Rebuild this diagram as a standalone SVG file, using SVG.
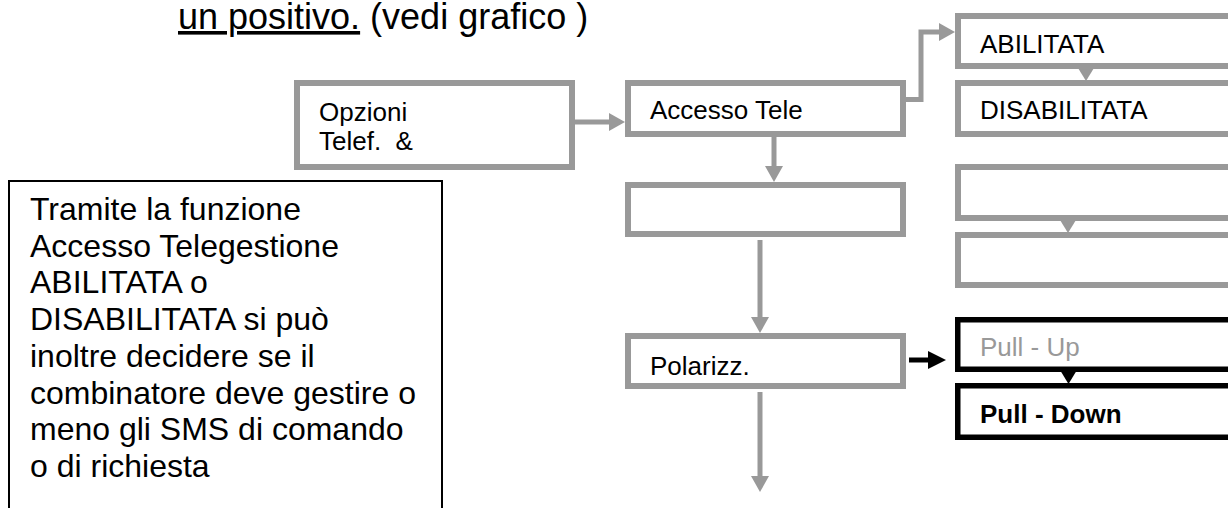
<svg xmlns="http://www.w3.org/2000/svg" width="1228" height="508" viewBox="0 0 1228 508">
<style>
  .box{fill:#fff;stroke:#999;stroke-width:6}
  .bbox{fill:#fff;stroke:#000;stroke-width:5.5}
  .lbl{font-family:"Liberation Sans",Arial,sans-serif;font-size:26px;fill:#000;white-space:pre}
  .note{font-family:"Liberation Sans",Arial,sans-serif;font-size:32px;fill:#000}
  .title{font-family:"Liberation Sans",Arial,sans-serif;font-size:36px;fill:#000;white-space:pre}
  .con{fill:none;stroke:#999;stroke-width:5;stroke-linejoin:miter}
  .conb{fill:none;stroke:#000;stroke-width:5}
  .tri{fill:#999}
  .trib{fill:#000}
</style>
<defs>
  <marker id="ag" markerUnits="userSpaceOnUse" markerWidth="16" markerHeight="18" viewBox="0 0 16 18" refX="2" refY="9" orient="auto"><path d="M0,0 L16,9 L0,18 z" fill="#999"/></marker>
  <marker id="ab" markerUnits="userSpaceOnUse" markerWidth="18" markerHeight="18" viewBox="0 0 18 18" refX="2" refY="9" orient="auto"><path d="M0,0 L18,9 L0,18 z" fill="#000"/></marker>
</defs>
<rect width="1228" height="508" fill="#fff"/>

<text class="title" x="178" y="29"><tspan text-decoration="underline">un positivo.</tspan> (vedi grafico )</text>

<g id="connectors">
  <path class="con" d="M575,122 H611" marker-end="url(#ag)"/>
  <path class="con" d="M906,99.5 H921 V32 H941" marker-end="url(#ag)"/>
  <path class="con" d="M774,137 V168" marker-end="url(#ag)"/>
  <path class="con" d="M760,240 V319" marker-end="url(#ag)"/>
  <path class="con" d="M760,392 V478" marker-end="url(#ag)"/>
  <path class="conb" d="M909,360 H930" marker-end="url(#ab)"/>
  <polygon class="tri" points="1078,68 1094,68 1086,81"/>
  <polygon class="tri" points="1060,220 1076,220 1068,233"/>
  <polygon class="trib" points="1060,370 1077,370 1068.5,384"/>
</g>

<g id="node-opzioni">
  <rect class="box" x="297" y="83" width="275" height="84"/>
  <text class="lbl" x="319" y="121">Opzioni</text>
  <text class="lbl" x="319" y="150">Telef.  &amp;</text>
</g>
<g id="node-accesso">
  <rect class="box" x="628" y="83" width="275" height="51"/>
  <text class="lbl" x="650" y="119">Accesso Tele</text>
</g>
<g id="node-empty-mid">
  <rect class="box" x="628" y="185" width="275" height="49"/>
</g>
<g id="node-polarizz">
  <rect class="box" x="628" y="336" width="275" height="50"/>
  <text class="lbl" x="650" y="375">Polarizz.</text>
</g>
<g id="node-abilitata">
  <rect class="box" x="958" y="16" width="300" height="50"/>
  <text class="lbl" x="980" y="53">ABILITATA</text>
</g>
<g id="node-disabilitata">
  <rect class="box" x="958" y="83" width="300" height="51"/>
  <text class="lbl" x="980" y="119">DISABILITATA</text>
</g>
<g id="node-empty-r1">
  <rect class="box" x="958" y="167" width="300" height="51"/>
</g>
<g id="node-empty-r2">
  <rect class="box" x="958" y="235" width="300" height="50"/>
</g>
<g id="node-pullup">
  <rect class="bbox" x="957.75" y="319.75" width="300" height="49.5"/>
  <text class="lbl" x="980" y="356" fill="#999" style="fill:#999">Pull - Up</text>
</g>
<g id="node-pulldown">
  <rect class="bbox" x="957.75" y="385.75" width="300" height="51.5"/>
  <text class="lbl" x="980" y="423" style="font-weight:bold">Pull - Down</text>
</g>

<g id="node-note">
  <rect x="9" y="181" width="433" height="340" fill="#fff" stroke="#000" stroke-width="2"/>
  <text class="note" x="30" y="220">Tramite la funzione</text>
  <text class="note" x="30" y="256.7">Accesso Telegestione</text>
  <text class="note" x="30" y="293.4">ABILITATA o</text>
  <text class="note" x="30" y="330.1">DISABILITATA si può</text>
  <text class="note" x="30" y="366.8">inoltre decidere se il</text>
  <text class="note" x="30" y="403.5">combinatore deve gestire o</text>
  <text class="note" x="30" y="440.2">meno gli SMS di comando</text>
  <text class="note" x="30" y="476.9">o di richiesta</text>
</g>
</svg>
